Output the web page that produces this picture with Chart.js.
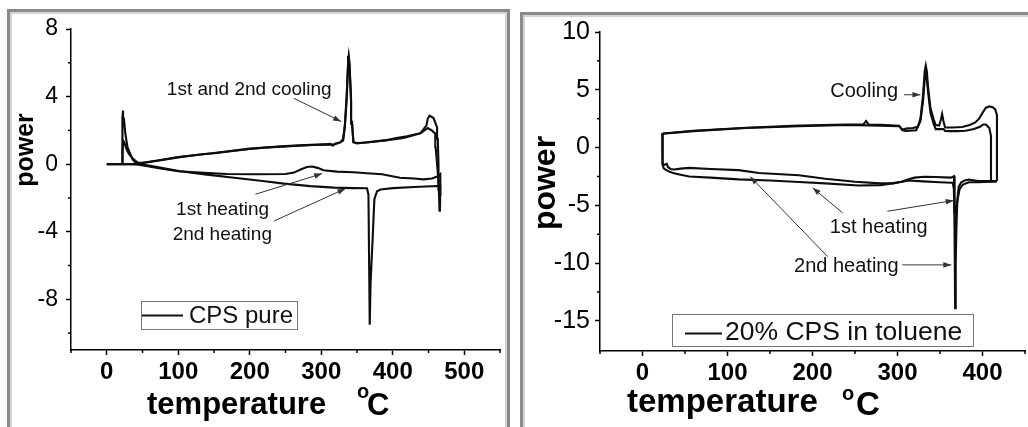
<!DOCTYPE html>
<html>
<head>
<meta charset="utf-8">
<script src="https://cdn.jsdelivr.net/npm/chart.js@4.4.0/dist/chart.umd.min.js"></script>
<style>
html, body { margin: 0; padding: 0; background: #fff; }
#wrap { position: relative; width: 1028px; height: 427px; overflow: hidden; background: #fff; }
.frame { position: absolute; border: 3px solid #8a8a8a; box-shadow: inset 0 0 0 2px #d4d4d4; }
#f1 { left: 7px; top: 9px; width: 497px; height: 420px; }
#f2 { left: 520px; top: 12px; width: 520px; height: 420px; }
canvas { position: absolute; top: 0; }
#c1 { left: 0; }
#c2 { left: 514px; }
</style>
</head>
<body>
<div id="wrap">
  <div class="frame" id="f1"></div>
  <div class="frame" id="f2"></div>
  <canvas id="c1" width="514" height="427"></canvas>
  <canvas id="c2" width="514" height="427"></canvas>
</div>
<script>
// ---- CPS pure (left panel) ----
const pureHeat1T = [0, 22, 35, 43, 55, 75, 100, 130, 168, 210, 250, 262, 272, 280, 287, 295, 303, 322, 345, 364, 385, 410, 430, 443, 455, 464, 466.5, 466.5];
const pureHeat1P = [0, 0, 0, -0.02, -0.1, -0.26, -0.42, -0.5, -0.58, -0.6, -0.58, -0.5, -0.3, -0.17, -0.14, -0.22, -0.36, -0.44, -0.48, -0.54, -0.6, -0.8, -0.85, -0.9, -0.85, -0.7, -0.6, -1.9];

const pureHeat2T = [0, 22, 35, 45, 61, 80, 103, 140, 178, 215, 248, 285, 318, 345, 364, 366, 367, 367.8, 369, 371.7, 374.3, 378, 383, 400, 430, 462, 466.5, 466];
const pureHeat2P = [0, 0, 0, 0, -0.1, -0.25, -0.42, -0.62, -0.8, -0.98, -1.15, -1.3, -1.39, -1.42, -1.43, -1.8, -6, -9.5, -7, -4.56, -2.08, -1.6, -1.5, -1.42, -1.35, -1.29, -1.3, -2.8];

const pureCool1T = [465.5, 464.5, 464, 463, 462, 457, 451.5, 449, 447, 438.5, 417.6, 410.6, 390, 364, 350, 345, 343, 341.7, 339.5, 338.5, 337.5, 335.5, 333, 330.6, 327, 320, 316, 313, 300, 280, 250, 224, 200, 150, 131, 100, 71, 47, 40, 36, 32, 29, 26, 24, 22.8, 22, 21.9];
const pureCool1P = [-2.8, -1.5, 0, 1.5, 2.17, 2.73, 2.87, 2.7, 2.28, 1.82, 1.58, 1.52, 1.4, 1.28, 1.25, 1.3, 2.5, 3.9, 6.0, 6.4, 6.0, 4.0, 2.3, 1.5, 1.3, 1.22, 1.1, 1.2, 1.15, 1.12, 1.05, 0.99, 0.9, 0.65, 0.57, 0.4, 0.2, 0.05, 0.1, 0.3, 0.7, 1.0, 1.8, 2.7, 3.17, 2.8, 0];

const pureCool2T = [465, 463, 460, 459.5, 455, 449, 446, 440, 420, 405, 390, 364, 350, 345, 343, 341.7, 339.5, 338.5, 337.5, 335.5, 333, 330.6, 325, 315, 300, 250, 200, 150, 100, 71, 50, 43, 36, 31, 27, 24.5, 23, 22.3, 22];
const pureCool2P = [-1.8, -0.5, 1.0, 1.8, 1.98, 2.14, 2.05, 1.85, 1.65, 1.55, 1.42, 1.3, 1.22, 1.3, 2.4, 3.7, 5.8, 6.2, 5.8, 3.8, 2.2, 1.4, 1.25, 1.15, 1.17, 1.07, 0.92, 0.66, 0.42, 0.22, 0.08, 0.1, 0.35, 0.6, 0.95, 1.3, 1.38, 1.0, 0];

const pureNotes = [['1st and 2nd cooling', 199.3, 4.12], ['1st heating', 162, -3.01], ['2nd heating', 161.6, -4.5]];
const pureArrows = [[261.6, 3.9, 327.8, 2.53], [208, -1.78, 301.3, -0.56], [233.7, -3.37, 333.8, -1.45]];

// ---- 20% CPS in toluene (right panel) ----
const tolHeat1T = [23.4, 23.6, 25, 28, 32, 36, 42, 55, 80, 113, 150, 184, 215, 254, 280, 293, 305, 313, 330, 350, 363, 365, 366.3, 367, 368, 369, 371, 373, 377, 384, 395, 410, 417];
const tolHeat1P = [1.25, -1.5, -1.8, -1.95, -2.1, -2.2, -2.3, -2.5, -2.6, -2.75, -2.85, -2.98, -3.1, -3.28, -3.25, -3.1, -2.95, -2.85, -2.92, -3.0, -3.04, -3.04, -3.6, -5.6, -5.7, -5.3, -4.4, -3.6, -3.2, -3.0, -3.0, -2.95, -2.9];

const tolHeat2T = [23.4, 23.6, 26, 28.5, 30, 33, 37, 45, 55, 80, 113, 137, 184, 215, 250, 280, 295, 305, 313, 320, 332, 345, 363, 366.5, 367.2, 367.8, 368.5, 369.3, 370.4, 372, 375, 379, 384, 395, 417];
const tolHeat2P = [1.25, -1.4, -1.5, -1.4, -1.7, -1.85, -1.9, -1.82, -1.76, -1.85, -1.95, -2.2, -2.4, -2.7, -2.95, -3.1, -3.1, -2.95, -2.75, -2.6, -2.52, -2.55, -2.6, -2.47, -8, -13.9, -10, -7, -4.5, -3.4, -3.0, -2.85, -2.76, -2.9, -2.9];

const tolCool1T = [417, 417, 415, 412, 408, 404, 400, 396, 391.5, 385, 376, 365, 356, 354, 352.5, 351, 349, 345, 342.7, 338.8, 336, 334.5, 333.3, 332, 330, 327, 324, 318, 310, 305.6, 302, 280, 266, 263, 260, 240, 184, 122, 60, 23.8];
const tolCool1P = [-2.9, 2.8, 3.3, 3.5, 3.56, 3.45, 3.0, 2.5, 2.17, 1.95, 1.78, 1.74, 1.74, 2.3, 2.9, 2.4, 1.9, 1.95, 2.4, 3.4, 5.2, 6.6, 7.1, 6.6, 4.5, 2.5, 1.8, 1.7, 1.65, 1.55, 1.88, 1.98, 2.0, 2.3, 2.0, 2.0, 1.9, 1.72, 1.45, 1.22];

const tolCool2T = [417, 411, 410, 408, 404, 401, 397, 390, 380, 370, 360, 356, 354, 350, 345, 342.7, 338.8, 336, 334.5, 333.3, 332, 330, 327, 322, 310, 306, 302, 280, 240, 184, 122, 60, 23.8];
const tolCool2P = [-2.9, -2.9, 1.0, 1.7, 2.0, 2.0, 1.8, 1.6, 1.45, 1.42, 1.42, 1.44, 1.6, 1.6, 1.6, 2.0, 3.0, 4.8, 5.9, 6.3, 5.9, 4.0, 2.3, 1.5, 1.45, 1.5, 1.85, 1.9, 1.95, 1.85, 1.7, 1.42, 1.2];

const tolNotes = [['Cooling', 260.8, 4.37], ['1st heating', 277.9, -7.37], ['2nd heating', 239.8, -10.76]];
const tolArrows = [[307.6, 4.57, 327, 4.57], [235.4, -5.65, 200.2, -3.48], [288, -5.51, 366.2, -4.58], [217.8, -9.43, 126.8, -2.52], [305.6, -10.15, 363.3, -10.15]];

const FONT = "'Liberation Sans', Arial, sans-serif";
const isMult = (v, m) => Math.abs(v / m - Math.round(v / m)) < 1e-6;

function curve(T, P) {
    return {
        data: T.map((t, i) => ({ x: t, y: P[i] })),
        showLine: true,
        borderColor: '#0d0d0d',
        borderWidth: 2.1,
        pointRadius: 0,
        fill: false,
        tension: 0
    };
}

function arrow(ctx, x1, y1, x2, y2) {
    ctx.strokeStyle = '#333';
    ctx.fillStyle = '#333';
    ctx.lineWidth = 1;
    ctx.beginPath(); ctx.moveTo(x1, y1); ctx.lineTo(x2, y2); ctx.stroke();
    const a = Math.atan2(y2 - y1, x2 - x1), L = 8, W = 2.8;
    ctx.beginPath();
    ctx.moveTo(x2, y2);
    ctx.lineTo(x2 - L * Math.cos(a) + W * Math.sin(a), y2 - L * Math.sin(a) - W * Math.cos(a));
    ctx.lineTo(x2 - L * Math.cos(a) - W * Math.sin(a), y2 - L * Math.sin(a) + W * Math.cos(a));
    ctx.closePath();
    ctx.fill();
}

// notes, arrows, legend box, axis titles and minor ticks
function decor(cfg) {
    return {
        id: 'decor',
        afterDraw(chart) {
            const ctx = chart.ctx, xs = chart.scales.x, ys = chart.scales.y;
            ctx.save();

            // minor ticks
            ctx.strokeStyle = '#000';
            ctx.lineWidth = 1.5;
            xs.ticks.forEach(t => {
                if (isMult(t.value, cfg.xMajor)) return;
                const px = xs.getPixelForValue(t.value);
                ctx.beginPath(); ctx.moveTo(px, xs.top); ctx.lineTo(px, xs.top + 3); ctx.stroke();
            });
            ys.ticks.forEach(t => {
                if (isMult(t.value, cfg.yMajor) || t.value < ys.min + 0.5) return;
                const py = ys.getPixelForValue(t.value);
                ctx.beginPath(); ctx.moveTo(ys.right, py); ctx.lineTo(ys.right - 3, py); ctx.stroke();
            });

            // annotations
            ctx.font = cfg.noteFont;
            ctx.textAlign = 'center';
            ctx.textBaseline = 'alphabetic';
            cfg.notes.forEach(n => {
                ctx.fillStyle = '#111';
                ctx.fillText(n[0], xs.getPixelForValue(n[1]), ys.getPixelForValue(n[2]));
            });
            cfg.arrows.forEach(a => arrow(ctx,
                xs.getPixelForValue(a[0]), ys.getPixelForValue(a[1]),
                xs.getPixelForValue(a[2]), ys.getPixelForValue(a[3])));

            // legend
            const lg = cfg.legend;
            ctx.strokeStyle = '#777';
            ctx.lineWidth = 1;
            ctx.strokeRect(lg.box[0] + 0.5, lg.box[1] + 0.5, lg.box[2], lg.box[3]);
            ctx.strokeStyle = '#111';
            ctx.lineWidth = 2;
            ctx.beginPath(); ctx.moveTo(lg.line[0], lg.line[2]); ctx.lineTo(lg.line[1], lg.line[2]); ctx.stroke();
            ctx.fillStyle = '#111';
            ctx.font = lg.font;
            ctx.textAlign = 'left';
            ctx.fillText(lg.text, lg.tx, lg.ty);

            // axis titles
            const t = cfg.titles;
            ctx.fillStyle = '#000';
            ctx.save();
            ctx.translate(t.yx, t.yy);
            ctx.rotate(-Math.PI / 2);
            ctx.font = 'bold ' + t.ySize + 'px ' + FONT;
            ctx.textAlign = 'center';
            ctx.fillText('power', 0, 0);
            ctx.restore();
            ctx.textAlign = 'left';
            ctx.font = 'bold ' + t.xSize + 'px ' + FONT;
            ctx.fillText('temperature', t.xx, t.xy);
            ctx.fillText('C', t.cx, t.cy);
            ctx.font = 'bold ' + t.oSize + 'px ' + FONT;
            ctx.fillText('o', t.ox, t.oy);

            ctx.restore();
        }
    };
}

function makeChart(id, sets, ax, cfg) {
    return new Chart(document.getElementById(id), {
        type: 'scatter',
        data: { datasets: sets },
        options: {
            responsive: false,
            animation: false,
            layout: { padding: ax.pad },
            plugins: { legend: { display: false }, tooltip: { enabled: false } },
            scales: {
                x: {
                    type: 'linear', min: ax.xMin, max: ax.xMax,
                    afterFit: s => { s.height = ax.xH; },
                    border: { display: true, color: '#000', width: 1.5 },
                    grid: {
                        drawOnChartArea: false, tickLength: 5, tickWidth: 1.5,
                        tickColor: c => isMult(c.tick.value, cfg.xMajor) ? '#000' : 'rgba(0,0,0,0)'
                    },
                    ticks: {
                        stepSize: 50, padding: 3, color: '#000', maxRotation: 0, autoSkip: false,
                        font: { family: FONT, size: 24, weight: 'bold' },
                        callback: v => (isMult(v, 100) && v >= 0 && v <= ax.xLabMax) ? String(v) : ''
                    }
                },
                y: {
                    type: 'linear', min: ax.yMin, max: ax.yMax,
                    afterFit: s => { s.width = ax.yW; },
                    border: { display: true, color: '#000', width: 1.5 },
                    grid: {
                        drawOnChartArea: false, tickLength: 5, tickWidth: 1.5,
                        tickColor: c => isMult(c.tick.value, cfg.yMajor) ? '#000' : 'rgba(0,0,0,0)'
                    },
                    ticks: {
                        stepSize: ax.yStep, includeBounds: false, padding: ax.yPad, color: '#000', autoSkip: false,
                        font: { family: FONT, size: ax.yFont },
                        callback: v => isMult(v, cfg.yMajor) ? String(v) : ''
                    }
                }
            }
        },
        plugins: [decor(cfg)]
    });
}

makeChart('c1',
    [curve(pureHeat1T, pureHeat1P), curve(pureHeat2T, pureHeat2P), curve(pureCool1T, pureCool1P), curve(pureCool2T, pureCool2P)],
    { xMin: -50, xMax: 550, yMin: -11, yMax: 8, yStep: 2, xLabMax: 500, xH: 77, yW: 71, yPad: 8, yFont: 23,
      pad: { top: 29, right: 14, left: 0, bottom: 0 } },
    { xMajor: 100, yMajor: 4, notes: pureNotes, arrows: pureArrows, noteFont: '19px ' + FONT,
      legend: { box: [141, 301, 156, 28], line: [142, 183, 315.5], text: 'CPS pure', tx: 189, ty: 323, font: '24px ' + FONT },
      titles: { yx: 33, yy: 150, ySize: 25, xx: 147, xy: 414, xSize: 31, cx: 367, cy: 415, ox: 357, oy: 398, oSize: 20 } });

makeChart('c2',
    [curve(tolHeat1T, tolHeat1P), curve(tolHeat2T, tolHeat2P), curve(tolCool1T, tolCool1P), curve(tolCool2T, tolCool2P)],
    { xMin: -50, xMax: 450, yMin: -17.6, yMax: 10, yStep: 2.5, xLabMax: 400, xH: 76, yW: 86, yPad: 5, yFont: 25,
      pad: { top: 32, right: 1, left: 0, bottom: 0 } },
    { xMajor: 100, yMajor: 5, notes: tolNotes, arrows: tolArrows, noteFont: '20px ' + FONT,
      legend: { box: [158, 314, 301, 32], line: [171, 208, 333.5], text: '20% CPS in toluene', tx: 211, ty: 340, font: '26.5px ' + FONT },
      titles: { yx: 41, yy: 183, ySize: 32, xx: 113, xy: 412, xSize: 33, cx: 342, cy: 415, ox: 328, oy: 400, oSize: 20 } });
</script>
</body>
</html>
